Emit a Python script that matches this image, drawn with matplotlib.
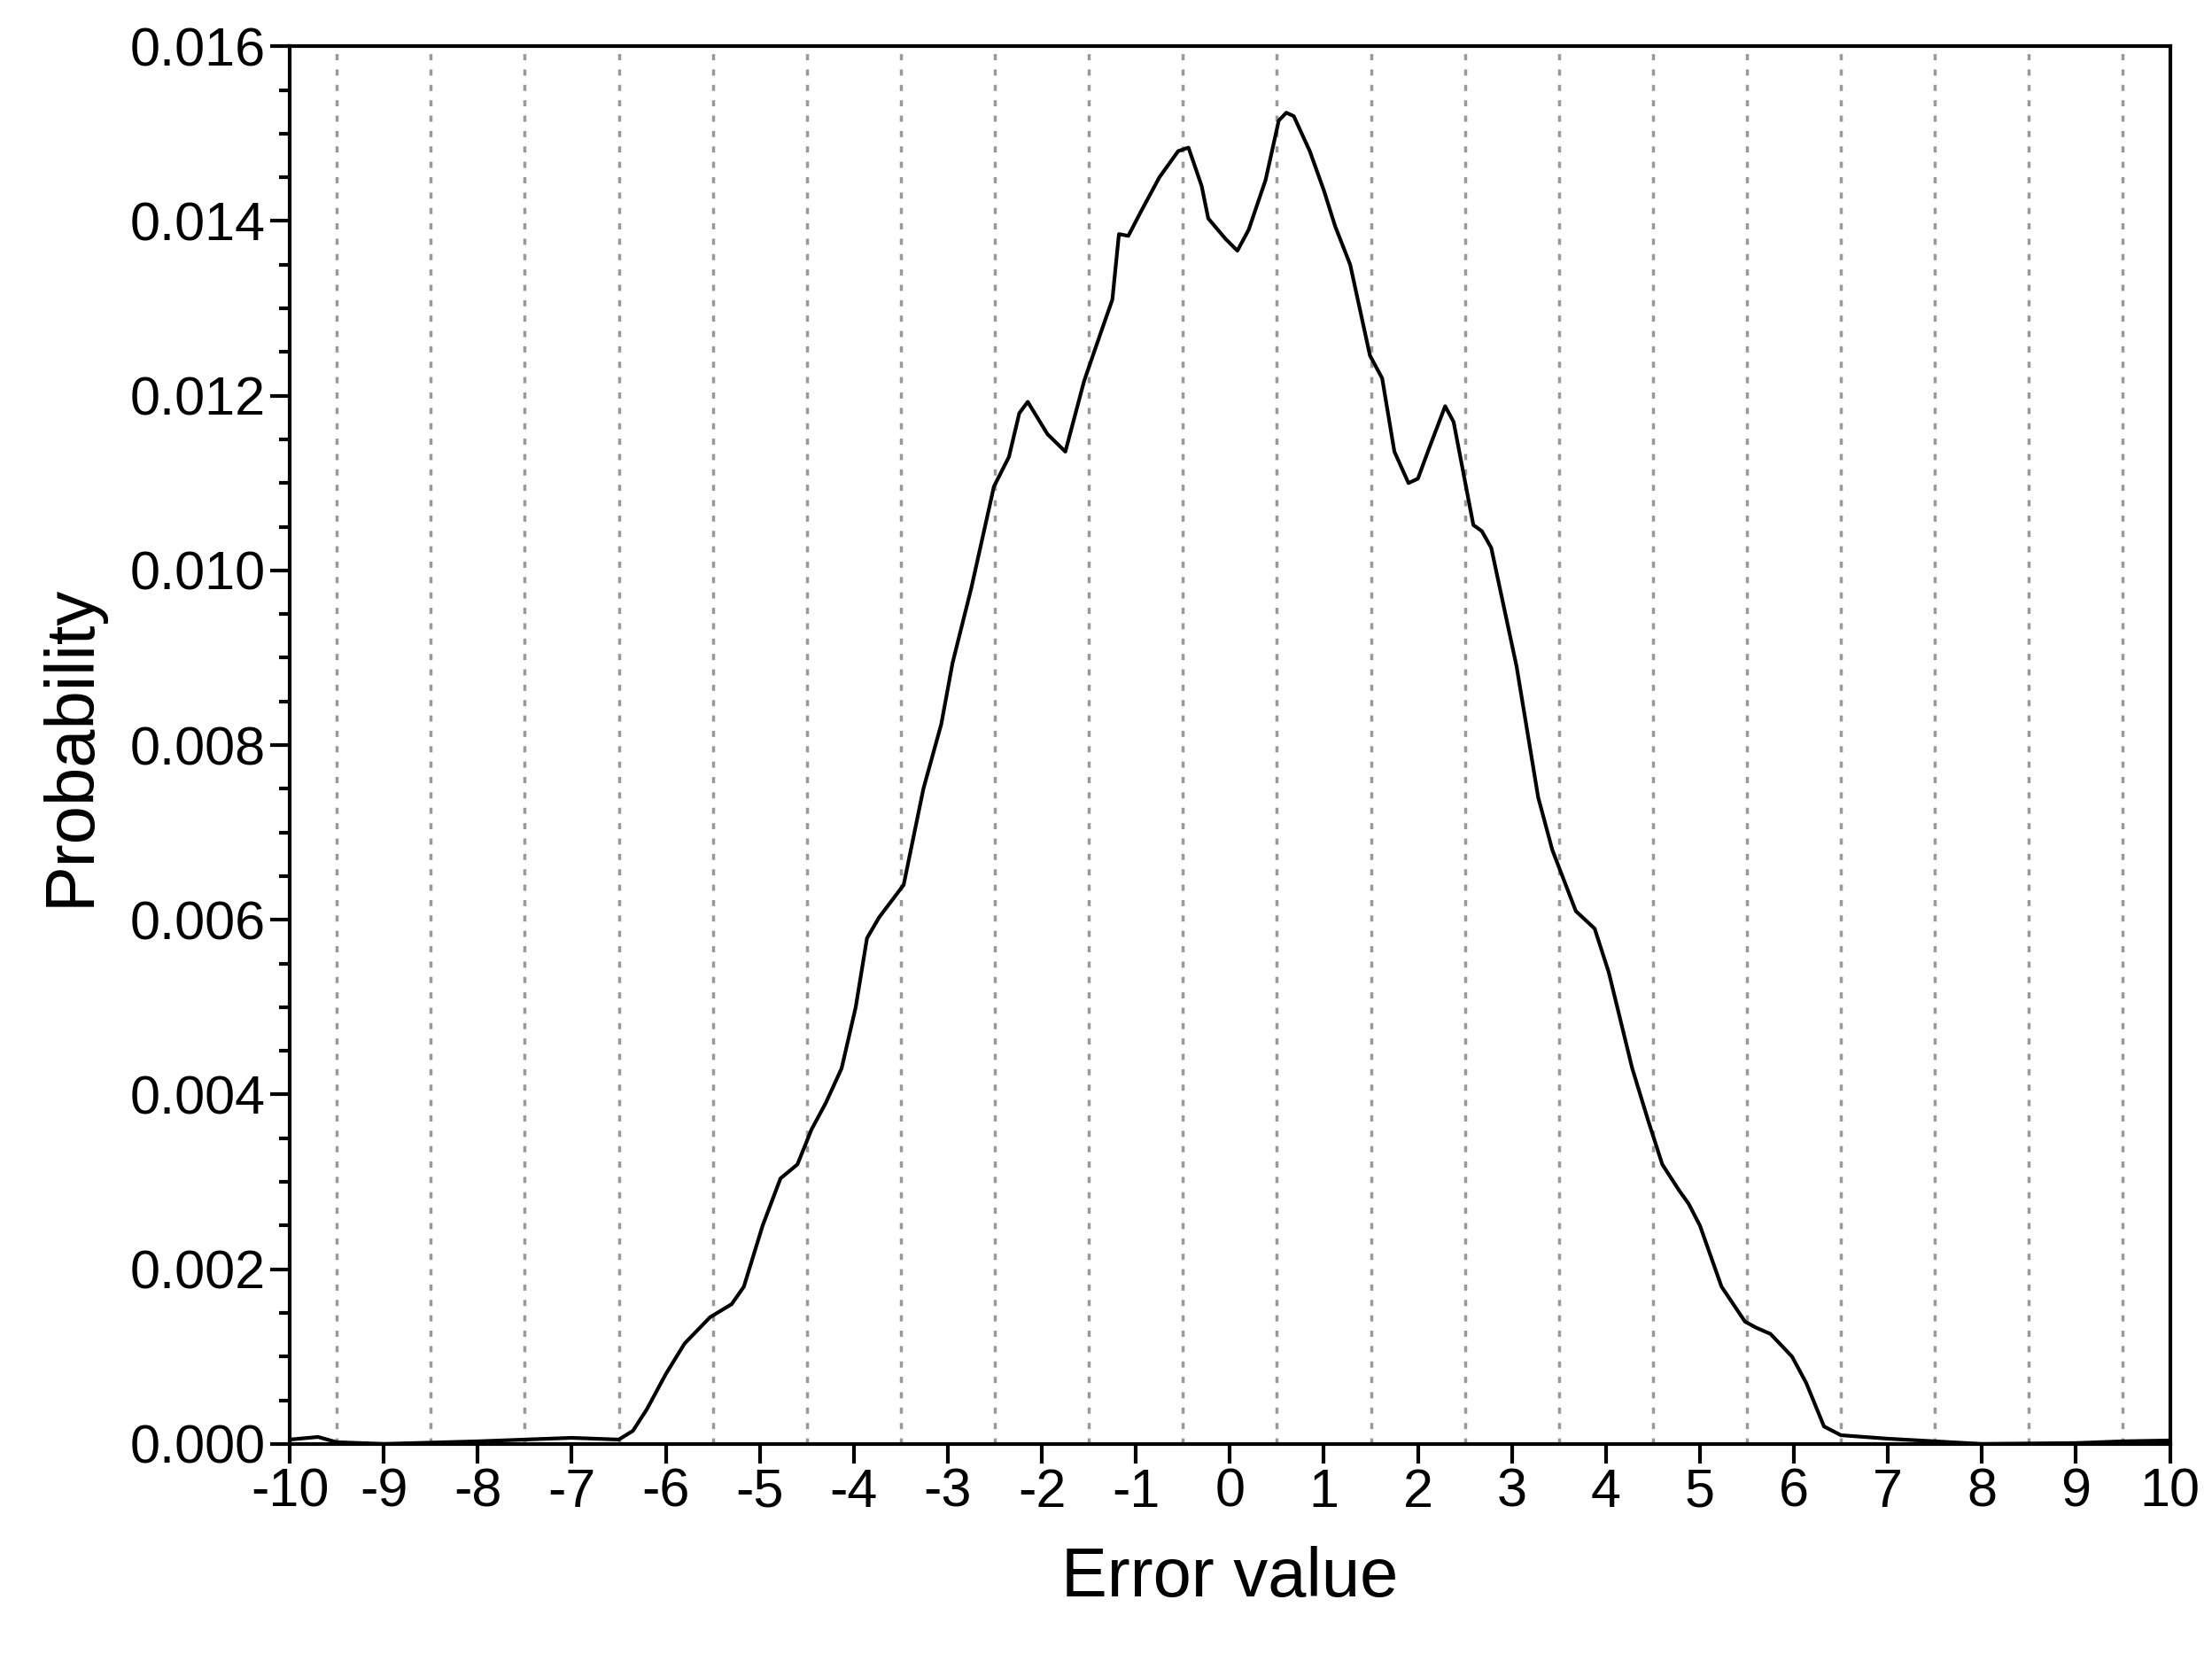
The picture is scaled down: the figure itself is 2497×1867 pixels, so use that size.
import matplotlib
matplotlib.use("Agg")
import matplotlib.pyplot as plt
import numpy as np

x_vals = [-10, -9.7, -9.5, -9.0, -8.0, -7.0, -6.5, -6.35, -6.2, -6.0, -5.8, -5.53, -5.3, -5.17, -4.97, -4.78,
          -4.6, -4.45, -4.3, -4.13, -3.98, -3.86, -3.73, -3.47, -3.26, -3.07, -2.95, -2.75, -2.51, -2.35,
          -2.24, -2.15, -1.94, -1.75, -1.55, -1.38, -1.25, -1.18, -1.08, -0.95, -0.75, -0.55, -0.44, -0.3,
          -0.23, -0.05, 0.08, 0.2, 0.38, 0.52, 0.6, 0.68, 0.85, 1.0, 1.12, 1.28, 1.49, 1.62, 1.75, 1.9,
          2.0, 2.12, 2.29, 2.38, 2.59, 2.68, 2.78, 3.05, 3.28, 3.43, 3.68, 3.8, 3.88, 4.03, 4.28, 4.45, 4.6,
          4.78, 4.88, 5.0, 5.23, 5.48, 5.6, 5.75, 5.98, 6.13, 6.32, 6.5, 7.0, 8.0, 9.0, 9.5, 10]
y_vals = [0.00005, 0.00008, 0.00002, 0.0, 0.00003, 0.00007, 0.00005, 0.00015, 0.0004, 0.0008, 0.00115, 0.00145, 0.0016, 0.0018, 0.0025, 0.00304,
          0.0032, 0.0036, 0.0039, 0.0043, 0.005, 0.00579, 0.00603, 0.0064, 0.0075, 0.00824, 0.00894, 0.0098, 0.01096, 0.0113,
          0.0118, 0.01193, 0.01156, 0.01136, 0.01217, 0.0127, 0.0131, 0.01385, 0.01383, 0.0141, 0.0145, 0.0148, 0.01484, 0.0144,
          0.01403, 0.0138, 0.01366, 0.0139, 0.01447, 0.01515, 0.01524, 0.0152, 0.0148, 0.01435, 0.01394, 0.0135, 0.01246, 0.0122, 0.01136, 0.011,
          0.01105, 0.0114, 0.01188, 0.0117, 0.01052, 0.01045, 0.01026, 0.0089, 0.0074, 0.0068, 0.0061, 0.00598, 0.0059, 0.0054, 0.0043, 0.0037, 0.0032,
          0.0029, 0.00275, 0.0025, 0.0018, 0.0014, 0.00133, 0.00126, 0.001, 0.0007, 0.0002, 0.0001, 0.00006, 0.0, 0.00001, 0.00003, 0.00004]
x_ticks = list(range(-10, 11))
y_ticks = [0.000, 0.002, 0.004, 0.006, 0.008, 0.010, 0.012, 0.014, 0.016]

plt.rcParams['font.family'] = ['Liberation Sans', 'DejaVu Sans']
fig = plt.figure(figsize=(24.97, 18.67), dpi=100)
ax = fig.add_axes([0.131, 0.127, 0.850, 0.845])
for g in np.arange(-9.5, 10, 1.0):
    ax.axvline(g, color='#999999', linestyle=(0, (2, 3)), linewidth=2.5, zorder=1)
ax.plot(x_vals, y_vals, color='black', linewidth=3, zorder=3)
ax.set_xlim(-10, 10)
ax.set_ylim(0, 0.016)
ax.set_xticks(x_ticks)
ax.set_xticklabels([str(t) for t in x_ticks])
ax.set_yticks(y_ticks)
ax.set_yticklabels([f"{t:.3f}" for t in y_ticks])
ax.set_yticks(np.arange(0, 0.0161, 0.0005), minor=True)
ax.tick_params(axis='both', which='major', labelsize=44, length=16, width=3, direction='out')
ax.tick_params(axis='y', which='minor', length=9, width=3, direction='out')
for s in ax.spines.values():
    s.set_linewidth(3)
ax.set_xlabel('Error value', fontsize=56, labelpad=22)
ax.set_ylabel('Probability', fontsize=56, labelpad=22)
fig.savefig('out.png', dpi=100)
